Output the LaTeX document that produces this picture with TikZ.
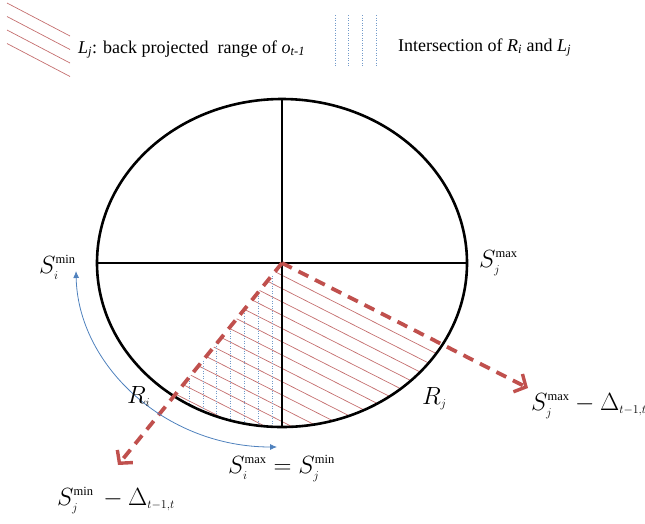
\documentclass[tikz,border=0pt]{standalone}
\usepackage{fontspec}
\setmainfont{Liberation Serif}
\DeclareMathSizes{23.5}{23.5}{12.5}{10}
\usetikzlibrary{arrows.meta}
\definecolor{offred}{RGB}{192,80,77}
\definecolor{hatchred}{RGB}{196,110,110}
\definecolor{offblue}{RGB}{79,129,189}
\tikzset{
  frame/.style={line width=2.6pt, black},
  reddash/.style={line width=3.8pt, offred, dash pattern=on 11pt off 7.5pt,
     -{Straight Barb[length=9pt,width=20pt,line width=3.4pt]}},
  redhatch/.style={line width=0.7pt, hatchred},
  bluehatch/.style={line width=0.6pt, offblue!80, dash pattern=on 1pt off 1.5pt},
  bluearc/.style={line width=0.8pt, offblue, {Latex[length=7pt,width=6pt]}-{Latex[length=7pt,width=6pt]}},
  legendtext/.style={font=\fontsize{18}{21}\selectfont, inner sep=0pt},
  mathlabel/.style={font=\fontsize{23.5}{27}\selectfont, inner sep=0pt, anchor=base west},
}
\begin{document}
\begin{tikzpicture}[x=1pt,y=-1pt]
\useasboundingbox (0,0) rectangle (645,523);
% legend
\foreach \k in {0,1,2,3}{
  \draw[redhatch] (7,{3+13.5*\k}) -- (70,{36+13.5*\k});
}
\foreach \xx in {335,348,362,376}{
  \draw[bluehatch] (\xx,15) -- (\xx,67);
}
\node[legendtext, anchor=base west] (leg1) at (78,53) {\textit{L}\textsubscript{\textit{j}}: back projected\ \ range of \textit{o}\textsubscript{\textit{t-1}}};
\node[legendtext, anchor=base west] (leg2) at (398,51) {Intersection of \textit{R}\textsubscript{\textit{i}} and \textit{L}\textsubscript{\textit{j}}};

% geometry
\coordinate (C) at (282,263);
\coordinate (T) at (282,99);
\coordinate (B) at (282,427);
\coordinate (Lf) at (97,263);
\coordinate (Rt) at (467,263);
\coordinate (A1) at (528,388);
\coordinate (A2) at (118,465);

% red hatching (L_j)
\begin{scope}
  \clip (C) ellipse [x radius=185pt, y radius=164pt];
  \clip (C) -- (A2) -- (300,700) -- (A1) -- cycle;
  \foreach \k in {1,...,22}{
    \draw[redhatch] (0,{263+13.3*\k-1-143.3}) -- (700,{263+13.3*\k-1+212.3});
  }
\end{scope}
% blue hatching (intersection)
\begin{scope}
  \clip (C) ellipse [x radius=185pt, y radius=164pt];
  \clip (C) -- (A2) -- (282,700) -- cycle;
  \foreach \xx in {189,203,216,230,244,258,272}{
    \draw[bluehatch] (\xx,263) -- (\xx,460);
  }
\end{scope}

% ellipse and cross
\draw[frame] (C) ellipse [x radius=185pt, y radius=164pt];
\draw[frame] (T) -- (B);
\draw[frame] (Lf) -- (Rt);

% red dashed arrows
\draw[reddash] (C) -- (A1);
\draw[reddash] (C) -- (A2);

% blue arc
\coordinate (arcS) at (76,271);
\coordinate (arcE) at (277,447);
\draw[bluearc] (arcS) .. controls (78,365) and (165,447) .. (arcE);

% labels
\node[mathlabel] (simin) at (39,273) {$S_i^{\mathrm{min}}$};
\node[mathlabel] (sjmax) at (479,267) {$S_j^{\mathrm{max}}$};
\node[mathlabel] (ri) at (127,403) {$R_i$};
\node[mathlabel] (rj) at (422,404) {$R_j$};
\node[mathlabel] (simax) at (228,473) {$S_i^{\mathrm{max}}=S_j^{\mathrm{min}}$};
\node[mathlabel] (sjmind) at (57,505) {$S_j^{\mathrm{min}}\,-\Delta_{t-1,t}$};
\node[mathlabel] (sjmaxd) at (531,410) {$S_j^{\mathrm{max}}-\Delta_{t-1,t}$};
\end{tikzpicture}
\end{document}
